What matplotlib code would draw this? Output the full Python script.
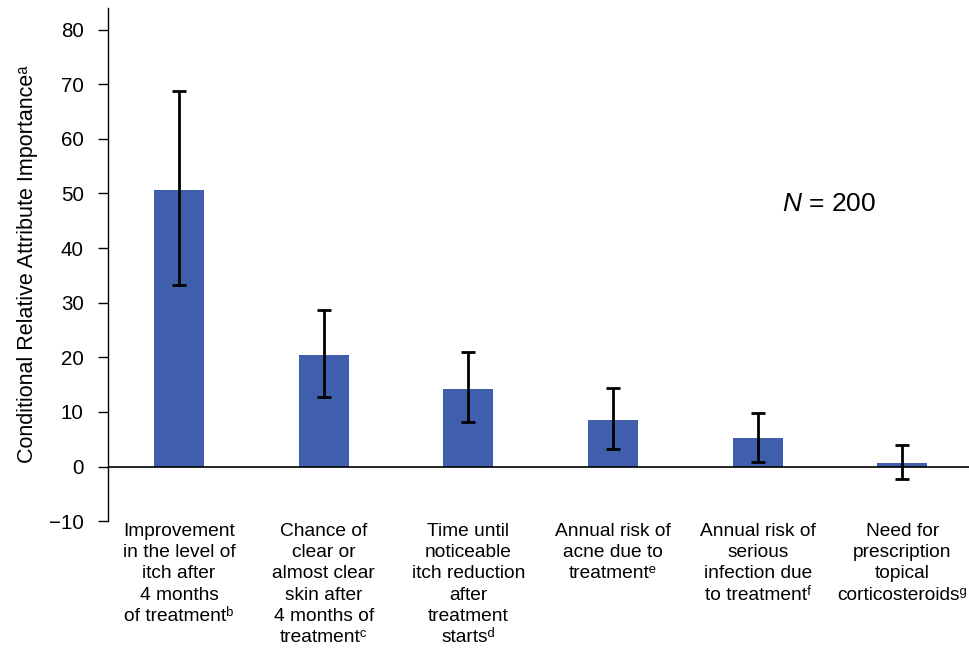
import numpy as np
import matplotlib
matplotlib.use('Agg')
import matplotlib.pyplot as plt

plt.rcParams['font.family'] = ['Liberation Sans', 'DejaVu Sans']
plt.rcParams['mathtext.fontset'] = 'custom'
plt.rcParams['mathtext.rm'] = 'Liberation Sans'
plt.rcParams['mathtext.it'] = 'Liberation Sans:italic'

# Attribute importance with 95% CI
categories = [
    'Improvement\nin the level of\nitch after\n4 months\nof treatment\u1d47',
    'Chance of\nclear or\nalmost clear\nskin after\n4 months of\ntreatment\u1d9c',
    'Time until\nnoticeable\nitch reduction\nafter\ntreatment\nstarts\u1d48',
    'Annual risk of\nacne due to\ntreatment\u1d49',
    'Annual risk of\nserious\ninfection due\nto treatment\u1da0',
    'Need for\nprescription\ntopical\ncorticosteroids\u1d4d',
]
importance = [50.6, 20.4, 14.2, 8.5, 5.2, 0.7]
ci_low = [33.2, 12.7, 8.1, 3.3, 0.9, -2.2]
ci_high = [68.8, 28.6, 21.0, 14.4, 9.8, 3.9]

x = np.arange(len(categories))
imp = np.array(importance)
yerr = [imp - np.array(ci_low), np.array(ci_high) - imp]

fig = plt.figure(figsize=(9.69, 6.49), dpi=100)
ax = fig.add_axes([0.1115, 0.197, 0.8885, 0.791])

ax.bar(x, importance, width=0.345, color='#3f5fac', zorder=2)
ax.errorbar(x, importance, yerr=yerr, fmt='none', ecolor='black',
            elinewidth=2, capsize=5, capthick=2, zorder=3)
ax.axhline(0, color='black', linewidth=1.2, zorder=4)

ax.set_xlim(-0.49, 5.46)
ax.set_ylim(-10, 84)
ax.set_yticks(range(-10, 81, 10))
ax.set_yticklabels(['\u221210'] + [str(v) for v in range(0, 81, 10)])
ax.tick_params(axis='y', direction='out', length=7.5, width=1, labelsize=14.8, pad=10)
ax.set_xticks([])

for s in ['top', 'right', 'bottom']:
    ax.spines[s].set_visible(False)
ax.spines['left'].set_linewidth(1)

ax.set_ylabel('Conditional Relative Attribute Importance\u1d43', fontsize=15.5, labelpad=8)

for xi, lab in zip(x, categories):
    ax.text(xi, -10.3, lab, ha='center', va='top', fontsize=13.8,
            linespacing=1.33, clip_on=False)

ax.text(4.49, 48.0, '$N$ = 200', ha='center', va='center', fontsize=19)

fig.savefig('out.png', dpi=100)
